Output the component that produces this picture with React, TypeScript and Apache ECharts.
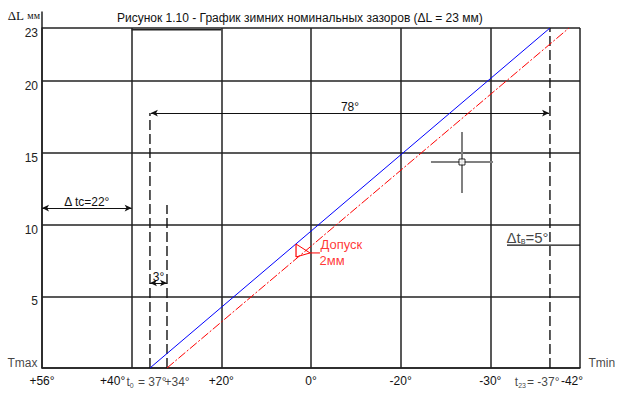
import { useEffect, useRef } from 'react';
import * as echarts from 'echarts';

// ---------------- data ----------------
// Schematic temperature axis: one grid column per tick label
const X_TICK_LABELS = ['+56°', '+40°', '+20°', '0°', '-20°', '-30°', '-42°'];
// Gap axis, mm
const Y_TICK_VALUES = [0, 5, 10, 15, 20];
const DL_MAX = 23; // ΔL = 23 mm (top line)
const DL_MAX_POS = 23.7; // where the schematic draws its "23" line

// Characteristic temperatures, as positions on the schematic axis
const T0_POS = 1.204; // t0 = 37°
const T34_POS = 1.394; // +34°
const T23_POS = 5.665; // t23 = -37°
const TOL_TOP_POS = 5.877;

const NOMINAL_LINE = [[T0_POS, 0], [T23_POS, DL_MAX_POS]];
const TOLERANCE_LINE = [[T34_POS, 0], [TOL_TOP_POS, DL_MAX_POS]];

const DIM_78_Y = 17.77;
const DIM_22_Y = 11.15;
const DIM_3_Y = 5.925;
const DIM_5_Y = 8.57;
const DIM_5_FROM = 5.186;

const DIMENSIONS = [
  { text: '78°', from: T0_POS + 0.01, to: T23_POS - 0.01, y: DIM_78_Y },
  { text: 'Δ tc=22°', from: 0, to: 1, y: DIM_22_Y },
  { text: '3°', from: T0_POS, to: T34_POS, y: DIM_3_Y },
];

const DASHED_LINES = [
  [[T0_POS, 0], [T0_POS, DIM_78_Y]],
  [[T34_POS, 0], [T34_POS, 11.36]],
  [[T23_POS, 0], [T23_POS, DL_MAX_POS]],
];

const CROSS_CENTER = [4.684, 14.36];
const CROSS_V = [[4.684, 12.2], [4.684, 16.45]];
const CROSS_H = [[4.338, 14.36], [5.03, 14.36]];

const TOL_TOP = [2.833, 8.64];
const TOL_BOTTOM = [2.833, 7.74];
const TOL_APEX = [2.989, 8.02];
const TOL_END = [3.1, 8.02];

// ---------------- chart ----------------
const FONT = '"Liberation Sans", Arial, sans-serif';
const SERIF = '"Liberation Serif", "Times New Roman", serif';
const GRID_COLOR = '#222';

function seg(data: number[][], lineStyle: any, extra: any = {}) {
  return {
    type: 'line',
    data,
    symbol: 'none',
    showSymbol: false,
    silent: true,
    lineStyle,
    z: 3,
    ...extra,
  };
}

function dimension(d: { text: string; from: number; to: number; y: number }) {
  return {
    type: 'line',
    data: [],
    silent: true,
    markLine: {
      silent: true,
      symbol: ['arrow', 'arrow'],
      symbolSize: [5, 7],
      animation: false,
      lineStyle: { color: '#111', width: 1, type: 'solid' },
      label: {
        show: true,
        position: 'middle',
        distance: 0,
        formatter: d.text,
        color: '#111',
        fontSize: 12,
        fontFamily: FONT,
      },
      data: [[{ coord: [d.from, d.y] }, { coord: [d.to, d.y] }]],
    },
  };
}

type Note = {
  at: number[];
  text: string;
  align: string;
  offset: number[];
  color?: string;
  fontSize?: number;
};

const subRich = {
  m: { fontSize: 12, fontFamily: FONT, color: '#111', lineHeight: 14 },
  s: { fontSize: 7, fontFamily: FONT, color: '#111', verticalAlign: 'bottom', lineHeight: 14, padding: [0, 1, 0, 0] },
  mb: { fontSize: 15, fontFamily: FONT, color: '#111', lineHeight: 16 },
  sb: { fontSize: 9, fontFamily: FONT, color: '#111', verticalAlign: 'bottom', lineHeight: 16 },
};

const NOTES: Note[] = [
  { at: [0, 0], text: '{m|Tmax}', align: 'right', offset: [-4, -5] },
  { at: [6, 0], text: '{m|Tmin}', align: 'left', offset: [9, -5] },
  { at: [T0_POS, 0], text: '{m|t}{s|0}{m| = 37°}', align: 'left', offset: [-23, 14] },
  { at: [T34_POS, 0], text: '{m|+34°}', align: 'left', offset: [-2, 14] },
  { at: [T23_POS, 0], text: '{m|t}{s|23}{m|= -37°}', align: 'right', offset: [10, 14] },
  { at: [DIM_5_FROM, DIM_5_Y], text: '{mb|Δt}{sb|в}{mb|=5°}', align: 'left', offset: [0, -7] },
  { at: TOL_APEX, text: 'Допуск', align: 'left', offset: [11, -8], color: '#ff0000', fontSize: 13 },
  { at: TOL_APEX, text: '2мм', align: 'left', offset: [10, 8], color: '#ff0000', fontSize: 13 },
];

export default function App() {
  const ref = useRef<HTMLDivElement>(null);

  useEffect(() => {
    if (!ref.current) return;
    const chart = echarts.init(ref.current, null, { renderer: 'svg' });

    const series: any[] = [
      // box top between +40° and +20°
      seg([[1, 23.58], [2, 23.58]], { color: GRID_COLOR, width: 1.5 }),
      // y-axis extension above the grid
      seg([[0, DL_MAX_POS], [0, 24.85]], { color: GRID_COLOR, width: 1.5 }, { clip: false }),
      // dashed verticals
      ...DASHED_LINES.map((d) => seg(d, { color: '#111', width: 1.4, type: [10, 4] })),
      // nominal line & tolerance line
      seg(NOMINAL_LINE, { color: '#0000ff', width: 1 }, { z: 5 }),
      seg(TOLERANCE_LINE, { color: '#ff0000', width: 1, type: [9, 2, 2, 2] }, { z: 5 }),
      // dimension lines
      ...DIMENSIONS.map(dimension),
      // Δtв underline
      seg([[DIM_5_FROM, DIM_5_Y], [6, DIM_5_Y]], { color: '#111', width: 1.2 }),
      // crosshair
      seg(CROSS_V, { color: '#808080', width: 2 }),
      seg(CROSS_H, { color: '#808080', width: 2 }),
      {
        type: 'scatter',
        silent: true,
        symbol: 'rect',
        symbolSize: 6,
        itemStyle: { color: '#fff', borderColor: '#000', borderWidth: 1 },
        data: [CROSS_CENTER],
        z: 6,
      },
      // tolerance marker
      seg([TOL_BOTTOM, TOL_TOP], { color: '#ff0000', width: 1.2 }, { z: 6 }),
      seg([TOL_TOP, TOL_APEX, TOL_BOTTOM], { color: '#ff0000', width: 1 }, { z: 6 }),
      seg([TOL_APEX, TOL_END], { color: '#ff0000', width: 1 }, { z: 6 }),
      // text notes
      {
        type: 'scatter',
        silent: true,
        symbolSize: 1,
        itemStyle: { color: 'rgba(0,0,0,0)' },
        z: 7,
        data: NOTES.map((n) => ({
          value: n.at,
          label: {
            show: true,
            position: [0, 0],
            offset: n.offset,
            align: n.align,
            verticalAlign: 'middle',
            formatter: n.text,
            color: n.color || '#111',
            fontSize: n.fontSize || 12,
            fontFamily: FONT,
            rich: subRich,
          },
        })),
      },
    ];

    chart.setOption({
      animation: false,
      backgroundColor: '#fff',
      title: {
        text: 'Рисунок 1.10 - График зимних номинальных зазоров (ΔL = 23 мм)',
        left: 112,
        top: 7,
        textStyle: { fontSize: 12, fontWeight: 'normal', color: '#111', fontFamily: FONT },
      },
      grid: { left: 42, right: 44, top: 28, bottom: 29, containLabel: false },
      xAxis: {
        type: 'value',
        min: 0,
        max: X_TICK_LABELS.length - 1,
        interval: 1,
        axisLine: { show: true, lineStyle: { color: GRID_COLOR, width: 1.5 } },
        axisTick: { show: false },
        splitLine: { show: true, lineStyle: { color: GRID_COLOR, width: 1.5 } },
        axisLabel: {
          show: true,
          interval: 0,
          showMinLabel: true,
          showMaxLabel: true,
          margin: 7,
          fontSize: 12,
          fontFamily: FONT,
          color: '#111',
          formatter: (v: number) => {
            const i = Math.round(v);
            const t = X_TICK_LABELS[i] ?? '';
            if (i === 1) return `{l1|${t}}`;
            if (i === X_TICK_LABELS.length - 1) return `{l6|${t}}`;
            return t;
          },
          rich: {
            l1: { fontSize: 12, fontFamily: FONT, color: '#111', padding: [0, 38, 0, 0] },
            l6: { fontSize: 12, fontFamily: FONT, color: '#111', padding: [0, 16, 0, 0] },
          },
        },
      },
      yAxis: {
        type: 'value',
        min: 0,
        max: DL_MAX_POS,
        interval: Y_TICK_VALUES[1] - Y_TICK_VALUES[0],
        name: '{a|ΔL} {b|мм}',
        nameLocation: 'end',
        nameGap: 13,
        nameTextStyle: {
          align: 'right',
          verticalAlign: 'middle',
          padding: [0, 2, 0, 0],
          rich: {
            a: { fontFamily: SERIF, fontSize: 13, color: '#111' },
            b: { fontFamily: SERIF, fontSize: 10, color: '#111' },
          },
        },
        axisLine: { show: true, lineStyle: { color: GRID_COLOR, width: 1.5 } },
        axisTick: { show: false },
        splitLine: { show: true, lineStyle: { color: GRID_COLOR, width: 1.5 } },
        axisLabel: {
          margin: 4,
          fontSize: 12,
          fontFamily: FONT,
          color: '#222',
          verticalAlign: 'top',
          lineHeight: 10,
          showMaxLabel: true,
          formatter: (v: number) => {
            if (v === 0) return '';
            if (v > Y_TICK_VALUES[Y_TICK_VALUES.length - 1]) return String(DL_MAX);
            return String(v);
          },
        },
      },
      series,
    });

    return () => chart.dispose();
  }, []);

  return (
    <div
      ref={ref}
      style={{ position: 'absolute', left: 0, top: 0, width: 624, height: 397, background: '#fff' }}
    />
  );
}
